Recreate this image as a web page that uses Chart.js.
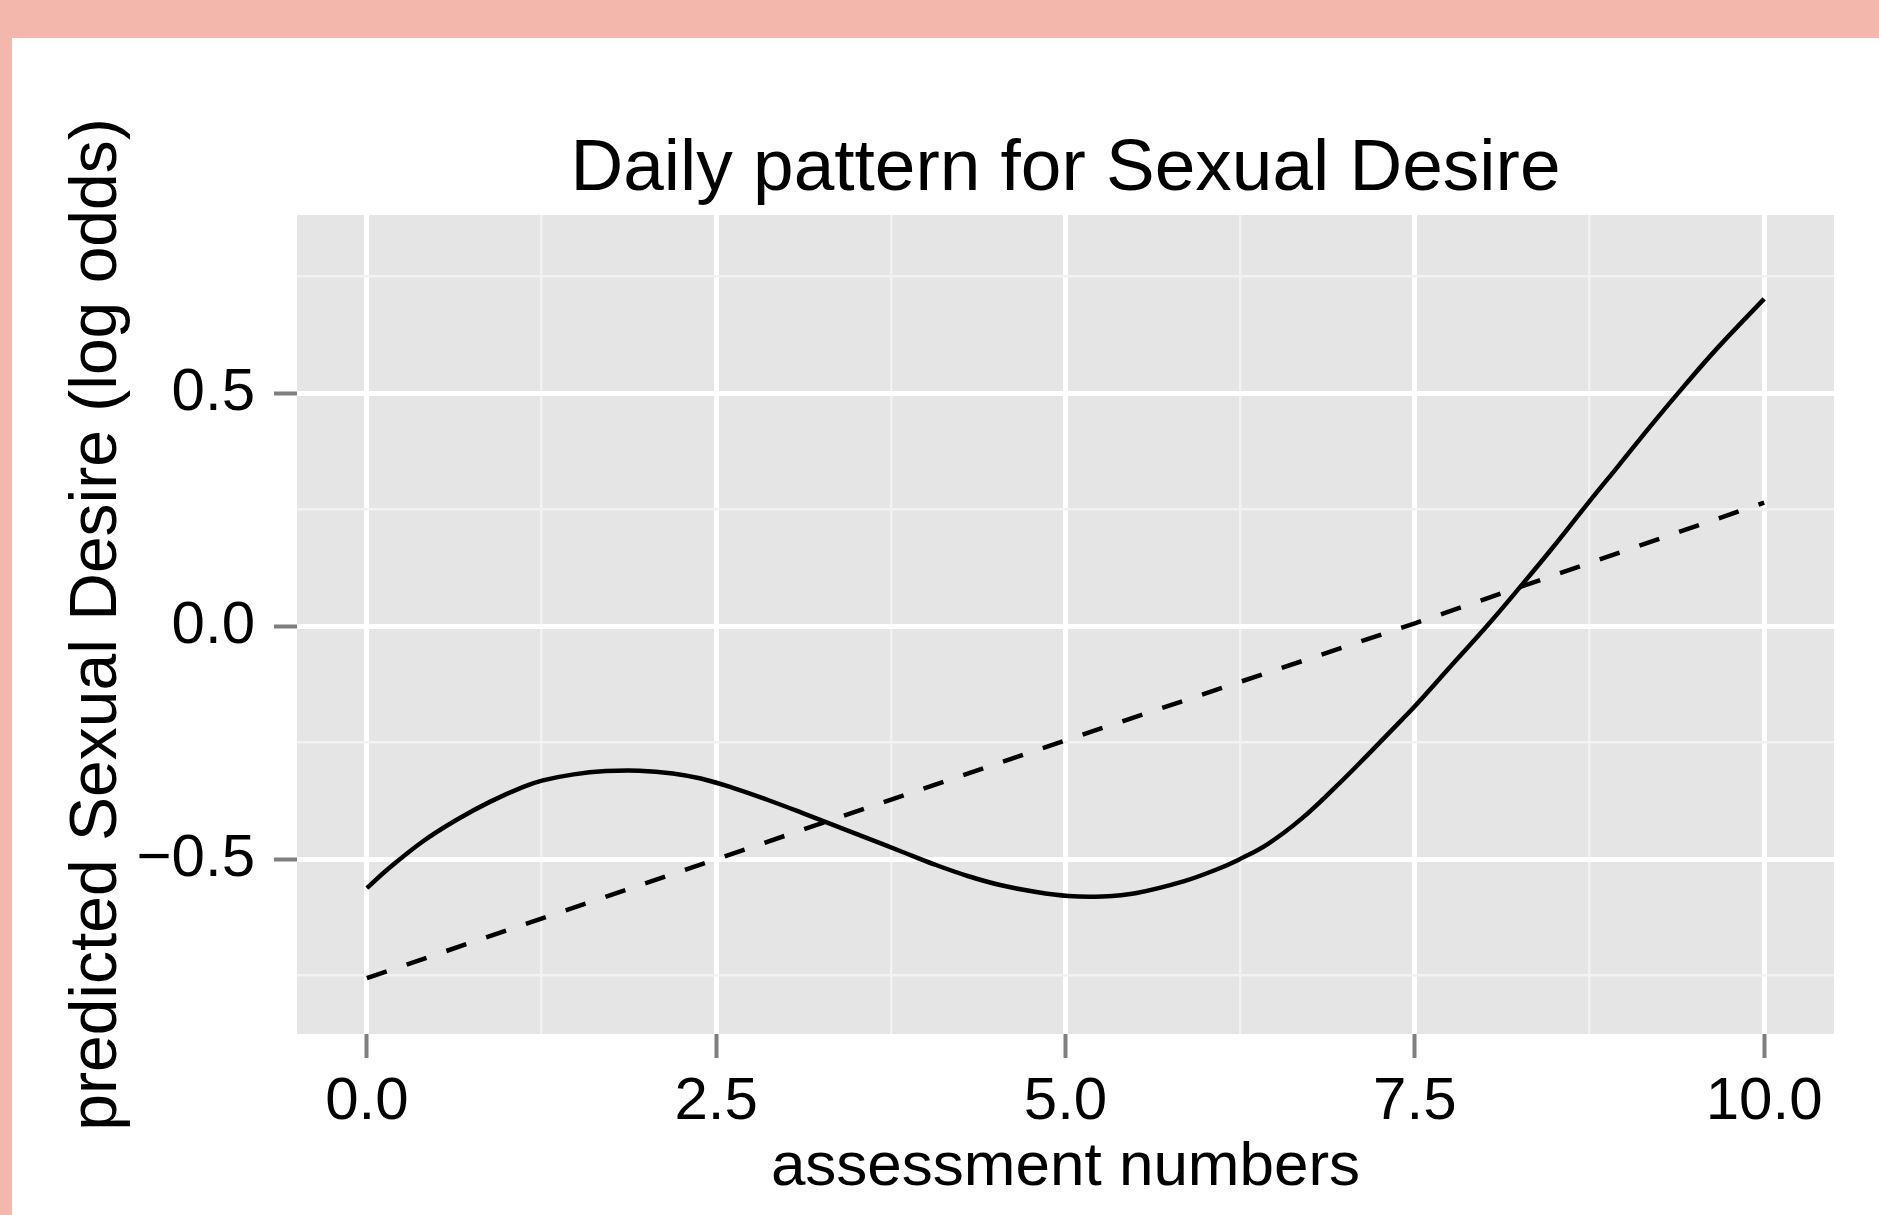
<!DOCTYPE html>
<html>
<head>
<meta charset="utf-8">
<script src="https://cdn.jsdelivr.net/npm/chart.js@4/dist/chart.umd.min.js"></script>
<style>
  html, body { margin: 0; padding: 0; }
  body { width: 1879px; height: 1215px; background: #F3B7AC; position: relative; overflow: hidden; }
  #frame { position: absolute; left: 12px; top: 38px; width: 1867px; height: 1177px; background: #ffffff; }
  #wrap { position: absolute; left: 0; top: 0; width: 1867px; height: 1177px; }
</style>
</head>
<body>
<div id="frame"><div id="wrap"><canvas id="c"></canvas></div></div>
<script>
// ---- data ----
const chartTitle = 'Daily pattern for Sexual Desire';
const xAxisTitle = 'assessment numbers';
const yAxisTitle = 'predicted Sexual Desire (log odds)';

const solidX = [0, 0.16, 0.40, 0.64, 0.88, 1.12, 1.26, 1.48, 1.71, 1.95, 2.19, 2.39, 2.63, 2.87, 3.11, 3.35, 3.59, 3.83, 4.06, 4.30, 4.54, 4.78, 5.02, 5.26, 5.50, 5.85, 6.09, 6.24, 6.45, 6.69, 6.93, 7.17, 7.41, 7.50, 7.76, 8.03, 8.29, 8.48, 8.74, 8.96, 9.20, 9.43, 9.67, 10.0];
const solidY = [-0.562, -0.519, -0.462, -0.416, -0.377, -0.345, -0.331, -0.318, -0.311, -0.310, -0.316, -0.327, -0.348, -0.373, -0.400, -0.428, -0.456, -0.484, -0.511, -0.536, -0.556, -0.570, -0.579, -0.580, -0.573, -0.547, -0.521, -0.501, -0.467, -0.413, -0.346, -0.274, -0.200, -0.172, -0.085, 0.005, 0.097, 0.166, 0.264, 0.345, 0.434, 0.516, 0.598, 0.702];

const dashedX = [0, 2.5, 5, 7.5, 10];
const dashedY = [-0.755, -0.500, -0.245, 0.006, 0.265];

const xMajorTicks = [0, 2.5, 5, 7.5, 10];
const xMinorTicks = [1.25, 3.75, 6.25, 8.75];
const xTickLabels = ['0.0', '2.5', '5.0', '7.5', '10.0'];
const yMajorTicks = [-0.5, 0, 0.5];
const yMinorTicks = [-0.75, -0.25, 0.25, 0.75];
const yTickLabels = ['\u22120.5', '0.0', '0.5'];

const xRange = [-0.5, 10.5];
const yRange = [-0.875, 0.882];

// ---- build ----
const FONT = "'Liberation Sans', Arial, Helvetica, sans-serif";
const toPoints = (xs, ys) => xs.map((x, i) => ({ x: x, y: ys[i] }));
const isIn = (arr, v) => arr.some(a => Math.abs(a - v) < 1e-9);

const panelBg = {
  id: 'panelBg',
  beforeDraw(chart) {
    const a = chart.chartArea, ctx = chart.ctx;
    ctx.save();
    ctx.fillStyle = '#E5E5E5';
    ctx.fillRect(a.left, a.top, a.right - a.left, a.bottom - a.top);
    ctx.restore();
  }
};

function gridOpts(majors, tickLen) {
  return {
    drawOnChartArea: true,
    drawTicks: true,
    tickLength: tickLen,
    color: ctx => isIn(majors, ctx.tick ? ctx.tick.value : NaN) ? '#FFFFFF' : '#F2F2F2',
    lineWidth: ctx => isIn(majors, ctx.tick ? ctx.tick.value : NaN) ? 5 : 2.5,
    tickColor: ctx => isIn(majors, ctx.tick ? ctx.tick.value : NaN) ? '#7F7F7F' : 'rgba(0,0,0,0)',
    tickWidth: 4
  };
}

new Chart(document.getElementById('c'), {
  type: 'line',
  data: {
    datasets: [
      {
        label: 'solid',
        data: toPoints(solidX, solidY),
        borderColor: '#000000',
        borderWidth: 4.5,
        pointRadius: 0,
        tension: 0.4,
        fill: false
      },
      {
        label: 'dashed',
        data: toPoints(dashedX, dashedY),
        borderColor: '#000000',
        borderWidth: 4.5,
        borderDash: [21, 21],
        pointRadius: 0,
        tension: 0,
        fill: false
      }
    ]
  },
  options: {
    responsive: true,
    maintainAspectRatio: false,
    animation: false,
    layout: { padding: { left: 0, right: 45, top: 0, bottom: 0 } },
    plugins: {
      legend: { display: false },
      tooltip: { enabled: false },
      title: {
        display: true,
        text: chartTitle,
        fullSize: false,
        color: '#000000',
        font: { family: FONT, size: 73, weight: 'normal', lineHeight: 1.2 },
        padding: { top: 88, bottom: 1.4 }
      }
    },
    scales: {
      x: {
        type: 'linear',
        min: xRange[0],
        max: xRange[1],
        border: { display: false },
        grid: gridOpts(xMajorTicks, 24),
        afterBuildTicks: s => { s.ticks = xMajorTicks.concat(xMinorTicks).sort((a, b) => a - b).map(v => ({ value: v })); },
        afterFit: s => { s.height = 181; },
        ticks: {
          autoSkip: false,
          maxRotation: 0,
          minRotation: 0,
          padding: 8,
          color: '#000000',
          font: { family: FONT, size: 60 },
          callback: v => { const i = xMajorTicks.findIndex(a => Math.abs(a - v) < 1e-9); return i >= 0 ? xTickLabels[i] : ''; }
        },
        title: {
          display: true,
          text: xAxisTitle,
          color: '#000000',
          font: { family: FONT, size: 62 },
          padding: { top: 0, bottom: 10 }
        }
      },
      y: {
        type: 'linear',
        min: yRange[0],
        max: yRange[1],
        border: { display: false },
        grid: gridOpts(yMajorTicks, 23),
        afterBuildTicks: s => { s.ticks = yMajorTicks.concat(yMinorTicks).sort((a, b) => a - b).map(v => ({ value: v })); },
        afterFit: s => { s.width = 285; },
        ticks: {
          autoSkip: false,
          padding: 19,
          color: '#000000',
          font: { family: FONT, size: 60 },
          callback: v => { const i = yMajorTicks.findIndex(a => Math.abs(a - v) < 1e-9); return i >= 0 ? yTickLabels[i] : ''; }
        },
        title: {
          display: true,
          text: yAxisTitle,
          color: '#000000',
          font: { family: FONT, size: 66 },
          padding: { top: 46, bottom: 0 }
        }
      }
    }
  },
  plugins: [panelBg]
});
</script>
</body>
</html>
